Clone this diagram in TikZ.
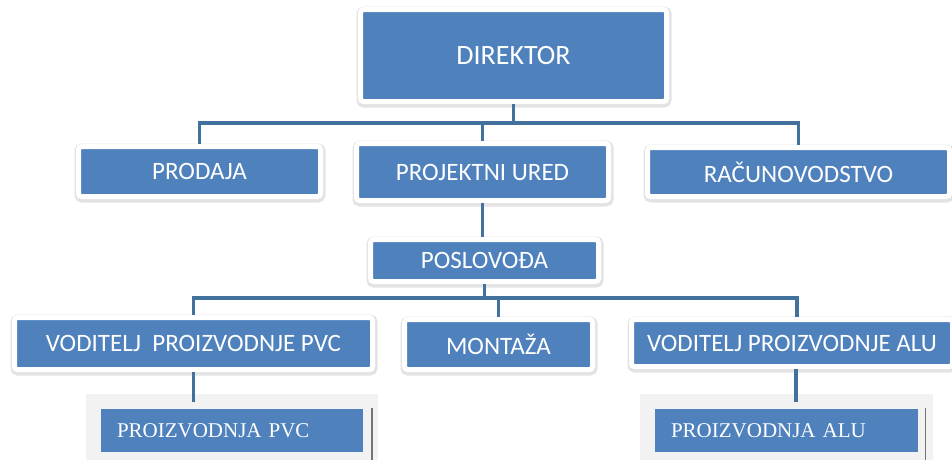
\documentclass[tikz,border=0pt]{standalone}
\usepackage{fontspec}
\setmainfont{Carlito}
\newfontfamily\serifbox{Liberation Serif}
\definecolor{boxblue}{HTML}{4F81BD}
\definecolor{linkblue}{HTML}{41719C}

\begin{document}
\begin{tikzpicture}[x=1pt,y=-1pt,
    unit/.style={rectangle,rounded corners=3pt,fill=boxblue,draw=white,line width=5pt,
      text=white,inner sep=0pt,font=\fontsize{25}{29}\selectfont,
      preaction={draw=black!11,line width=9pt,transform canvas={xshift=0.5pt,yshift=-1.5pt}}},
    prod/.style={rectangle,fill=boxblue,draw=black!5,line width=15pt,outer sep=0pt,
      text=white,inner xsep=23.5pt,inner ysep=0pt,minimum height=58pt,align=left,
      font=\serifbox\fontsize{21}{25}\selectfont},
    link/.style={draw=linkblue,line width=3.5pt}]
  \useasboundingbox (0,0) rectangle (952,459);
  \clip (0,0) rectangle (952,459);

  \node[unit,minimum width=306pt,minimum height=92pt,font=\fontsize{28}{33}\selectfont] (dir) at (513.5,55.5) {DIREKTOR};
  \node[unit,minimum width=242pt,minimum height=50pt] (prodaja) at (199.5,171.5) {PRODAJA};
  \node[unit,minimum width=252pt,minimum height=57pt] (projekt) at (482.5,172) {PROJEKTNI URED};
  \node[unit,minimum width=302pt,minimum height=49pt] (racun) at (798.5,172) {RAČUNOVODSTVO};
  \node[unit,minimum width=228pt,minimum height=42pt] (poslov) at (484.5,260.5) {POSLOVOĐA};
  \node[unit,minimum width=358pt,minimum height=52pt] (vpvc) at (193.5,343.5) {VODITELJ~~PROIZVODNJE PVC};
  \node[unit,minimum width=188pt,minimum height=50pt] (montaza) at (498.5,344.5) {MONTAŽA};
  \node[unit,minimum width=321pt,minimum height=47pt] (valu) at (792,343) {VODITELJ PROIZVODNJE ALU};

  \node[prod,text width=230pt] (ppvc) at (232,430.5) {PROIZVODNJA PVC};
  \node[prod,text width=231pt] (palu) at (786.5,430.5) {PROIZVODNJA ALU};
  \draw[black!55,line width=1.5pt] ([shift={(1.5,6)}]ppvc.north east) -- ([shift={(1.5,30)}]ppvc.south east);
  \draw[black!55,line width=1.5pt] ([shift={(0,6)}]palu.north east) -- ([shift={(0,30)}]palu.south east);

  \draw[link] (dir.south) -- ++(0,19) -| (prodaja.north);
  \draw[link] (dir.south) -- ++(0,19) -| (projekt.north);
  \draw[link] (dir.south) -- ++(0,19) -| (racun.north);
  \draw[link] (projekt.south) -- (projekt.south |- poslov.north);
  \draw[link] (poslov.south) -- ++(0,14) -| (vpvc.north);
  \draw[link] (poslov.south) -- ++(0,14) -| (montaza.north);
  \draw[link] (poslov.south) -- ++(0,14) -| ([xshift=5pt]valu.north);
  \draw[link] (vpvc.south) -- (vpvc.south |- ppvc.north);
  \draw[link] ([xshift=4pt]valu.south) -- ([xshift=4pt]valu.south |- palu.north);
\end{tikzpicture}
\end{document}
